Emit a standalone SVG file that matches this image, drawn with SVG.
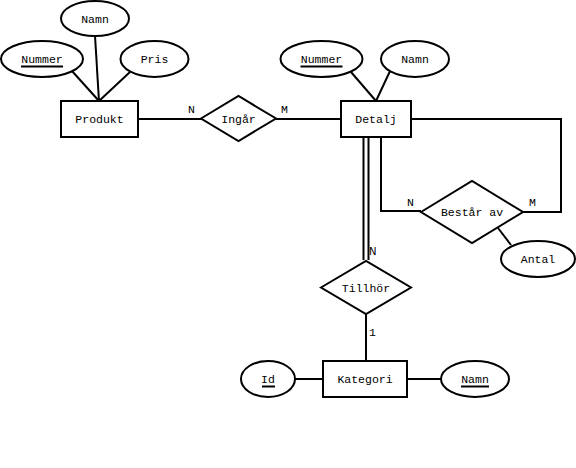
<svg xmlns="http://www.w3.org/2000/svg" width="576" height="468" viewBox="0 0 576 468">
<style>
.s{fill:#fff;stroke:#000;stroke-width:2}
.c{fill:none;stroke:#000;stroke-width:2}
text{font-family:"Liberation Mono","DejaVu Sans Mono",monospace;font-size:11.5px;fill:#000;text-anchor:middle}
.lb{text-anchor:start}
.sm{font-family:"DejaVu Sans","Liberation Sans",sans-serif;font-size:10px;text-anchor:start}
</style>
<rect width="576" height="468" fill="#fff"/>
<g id="connectors">
<line class="c" x1="99" y1="101" x2="95" y2="36"/>
<line class="c" x1="99" y1="101" x2="72" y2="71"/>
<line class="c" x1="99" y1="101" x2="130" y2="72"/>
<line class="c" x1="138" y1="119" x2="201" y2="119"/>
<line class="c" x1="276" y1="119" x2="341" y2="119"/>
<line class="c" x1="376" y1="101" x2="351" y2="72"/>
<line class="c" x1="376" y1="101" x2="391" y2="69"/>
<polyline class="c" points="411,119 561,119 561,212 523,212"/>
<polyline class="c" points="381,137 381,211 421,211"/>
<line class="c" x1="498" y1="228" x2="511" y2="245"/>
<line class="c" x1="363.5" y1="137" x2="363.5" y2="260"/>
<line class="c" x1="368.5" y1="137" x2="368.5" y2="260"/>
<line class="c" x1="366" y1="314" x2="366" y2="361"/>
<line class="c" x1="295" y1="379" x2="323" y2="379"/>
<line class="c" x1="407" y1="379" x2="441" y2="379"/>
<text class="lb" x="188" y="113">N</text>
<text class="lb" x="281" y="113">M</text>
<text class="lb" x="407" y="206">N</text>
<text class="lb" x="529" y="206">M</text>
<text class="sm" x="369" y="255">N</text>
<text class="lb" x="369" y="336">1</text>
</g>
<g id="namn1"><ellipse class="s" cx="95" cy="18.5" rx="34" ry="17.5"/><text x="95" y="23">Namn</text></g>
<g id="nummer1"><ellipse class="s" cx="42" cy="59" rx="41" ry="18"/><text x="42" y="63">Nummer</text><line class="c" x1="21" y1="66.5" x2="63" y2="66.5"/></g>
<g id="pris"><ellipse class="s" cx="154.5" cy="59" rx="34" ry="18"/><text x="154.5" y="63">Pris</text></g>
<g id="produkt"><rect class="s" x="61" y="101" width="77" height="36"/><text x="99.5" y="123">Produkt</text></g>
<g id="ingar"><polygon class="s" points="201,118.5 238.5,96 276,118.5 238.5,141"/><text x="238.5" y="123">Ingår</text></g>
<g id="nummer2"><ellipse class="s" cx="321.5" cy="59" rx="41" ry="18"/><text x="321.5" y="63">Nummer</text><line class="c" x1="300.5" y1="66.5" x2="342.5" y2="66.5"/></g>
<g id="namn2"><ellipse class="s" cx="415" cy="59" rx="34" ry="18"/><text x="415" y="63">Namn</text></g>
<g id="detalj"><rect class="s" x="341" y="101" width="70" height="36"/><text x="376" y="123">Detalj</text></g>
<g id="bestar"><polygon class="s" points="421,212 472,181 523,212 472,243"/><text x="472" y="216">Består av</text></g>
<g id="antal"><ellipse class="s" cx="538" cy="259" rx="37" ry="18"/><text x="538" y="263">Antal</text></g>
<g id="tillhor"><polygon class="s" points="321,287.5 366,261 411,287.5 366,314"/><text x="366" y="292">Tillhör</text></g>
<g id="kategori"><rect class="s" x="323" y="361" width="84" height="36"/><text x="365" y="383">Kategori</text></g>
<g id="id"><ellipse class="s" cx="268" cy="379" rx="27" ry="18"/><text x="268" y="383">Id</text><line class="c" x1="262" y1="386.5" x2="275" y2="386.5"/></g>
<g id="namn3"><ellipse class="s" cx="475" cy="379" rx="34" ry="18"/><text x="475" y="383">Namn</text><line class="c" x1="461" y1="386.5" x2="489" y2="386.5"/></g>
</svg>
